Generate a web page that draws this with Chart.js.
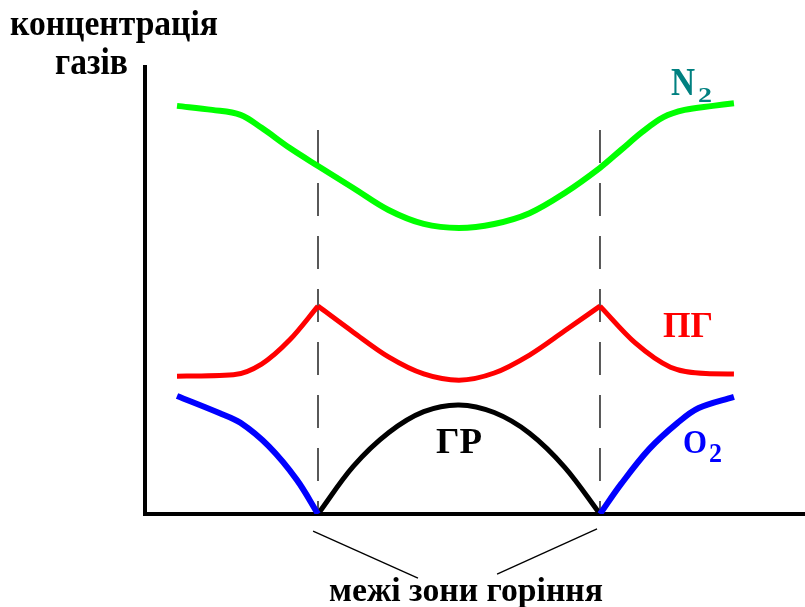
<!DOCTYPE html>
<html lang="uk">
    <head>
        <meta charset="utf-8" />
        <script src="https://cdn.jsdelivr.net/npm/chart.js@4.4.1/dist/chart.umd.min.js"></script>
        <title>концентрація газів</title>
        <style>
            body { margin: 0; background: #fff; }
            canvas { display: block; }
        </style>
    </head>
    <body>
        <canvas id="gazy" width="805" height="607"></canvas>
        <script>
            // межі зони горіння (x = 2 та x = 4), концентрація 0..100
            const mezhi = [2, 4];
            // азот N2
            const xN2 = [1, 1.25, 1.45, 1.6, 1.8, 2, 2.25, 2.5, 2.75, 3, 3.25, 3.5, 3.75, 4, 4.15, 4.3, 4.45, 4.6, 4.8, 4.95];
            const yN2 = [90.9, 90.0, 88.9, 86.0, 81.5, 77.5, 72.6, 67.7, 64.6, 63.7, 64.6, 67.0, 71.5, 77.1, 81.1, 85.1, 88.4, 90.0, 90.9, 91.5];
            // продукти горіння ПГ - три відрізки (гострі піки на межах)
            const xPG1 = [1, 1.4, 1.6, 1.8, 2];
            const yPG1 = [30.7, 31.0, 33.4, 38.8, 46.3];
            const xPG2 = [2, 2.25, 2.5, 2.75, 3, 3.25, 3.5, 3.75, 4];
            const yPG2 = [46.3, 40.5, 35.0, 31.2, 29.8, 31.4, 35.4, 40.8, 46.3];
            const xPG3 = [4, 4.25, 4.5, 4.75, 4.95];
            const yPG3 = [46.3, 38.1, 32.7, 31.3, 31.2];
            // кисень O2
            const xO2a = [1, 1.3, 1.45, 1.65, 1.85, 2];
            const yO2a = [26.3, 22.5, 20.3, 15.1, 7.6, 0];
            const xO2b = [4, 4.15, 4.35, 4.55, 4.7, 4.95];
            const yO2b = [0, 6.7, 14.5, 20.3, 23.6, 26.1];
            // горюча речовина ГР
            const xGR = [2, 2.25, 2.5, 2.75, 3, 3.25, 3.5, 3.75, 4];
            const yGR = [0, 10.6, 18.1, 22.8, 24.3, 22.6, 18.0, 10.4, 0];
            // пунктирні лінії на межах
            const verhPunktyru = 85.5;
            // виноски до підпису "межі зони горіння"
            const vynoska1 = [[1.965, -3.8], [2.709, -14.3]];
            const vynoska2 = [[3.979, -3.3], [3.27, -13.4]];

            const tochky = (xs, ys) => xs.map((x, i) => ({ x: x, y: ys[i] }));

            function kryva(xs, ys, kolir, tovshchyna, monotonna) {
                return {
                    data: tochky(xs, ys),
                    borderColor: kolir,
                    borderWidth: tovshchyna,
                    pointRadius: 0,
                    cubicInterpolationMode: monotonna ? "monotone" : "default",
                    tension: 0.35,
                    borderJoinStyle: "round",
                    fill: false
                };
            }
            function liniya(pary, dash) {
                return {
                    data: pary.map(p => ({ x: p[0], y: p[1] })),
                    borderColor: "#000",
                    borderWidth: 1.3,
                    borderDash: dash,
                    pointRadius: 0,
                    tension: 0,
                    clip: false,
                    fill: false
                };
            }

            const nabory = [
                kryva(xN2, yN2, "#00ff00", 6, false),
                kryva(xPG1, yPG1, "#ff0000", 5, true),
                kryva(xPG2, yPG2, "#ff0000", 5, true),
                kryva(xPG3, yPG3, "#ff0000", 5, true),
                kryva(xO2a, yO2a, "#0000ff", 6, false),
                kryva(xO2b, yO2b, "#0000ff", 6, false),
                kryva(xGR, yGR, "#000000", 5, false)
            ];
            mezhi.forEach(m => nabory.push(liniya([[m, verhPunktyru], [m, 0]], [33, 20])));
            nabory.push(liniya(vynoska1, []));
            nabory.push(liniya(vynoska2, []));

            // підписи: текст, лівий край, базова лінія, ширина, кегль, колір
            const pidpysy = [
                ["концентрація", 10, 35, 208, 36, "#000"],
                ["газів", 55, 74, 73, 37, "#000"],
                ["межі зони горіння", 329, 601, 274, 34, "#000"],
                ["N", 671, 95, 24, 39, "#008080"],
                ["2", 698, 102, 14, 22, "#008080"],
                ["ПГ", 663, 337, 50, 36, "#ff0000"],
                ["O", 683, 453, 24, 34, "#0000ff"],
                ["2", 709, 462, 13, 28, "#0000ff"],
                ["ГР", 436, 453, 46, 35, "#000"]
            ];

            const osi = {
                id: "osi",
                beforeDatasetsDraw(chart) {
                    const ctx = chart.ctx;
                    const sx = chart.scales.x, sy = chart.scales.y;
                    const x0 = sx.getPixelForValue(sx.min);
                    const y0 = sy.getPixelForValue(0);
                    ctx.save();
                    ctx.strokeStyle = "#000";
                    ctx.lineWidth = 4;
                    ctx.beginPath();
                    ctx.moveTo(x0, sy.getPixelForValue(sy.max));
                    ctx.lineTo(x0, y0 + 2);
                    ctx.moveTo(x0 - 2, y0);
                    ctx.lineTo(sx.getPixelForValue(sx.max), y0);
                    ctx.stroke();
                    ctx.restore();
                },
                afterDraw(chart) {
                    const ctx = chart.ctx;
                    pidpysy.forEach(p => {
                        ctx.save();
                        ctx.font = "bold " + p[4] + "px 'Liberation Serif', serif";
                        const w = ctx.measureText(p[0]).width;
                        ctx.translate(p[1], p[2]);
                        ctx.scale(p[3] / w, 1);
                        ctx.fillStyle = p[5];
                        ctx.textBaseline = "alphabetic";
                        ctx.fillText(p[0], 0, 0);
                        ctx.restore();
                    });
                }
            };

            new Chart(document.getElementById("gazy").getContext("2d"), {
                type: "line",
                data: { datasets: nabory },
                options: {
                    responsive: false,
                    animation: false,
                    layout: { padding: { left: 145, top: 65, right: 0, bottom: 93 } },
                    scales: {
                        x: { type: "linear", min: 0.773, max: 5.454, display: false },
                        y: { min: 0, max: 100, display: false }
                    },
                    plugins: {
                        legend: { display: false },
                        tooltip: { enabled: false }
                    }
                },
                plugins: [osi]
            });
        </script>
    </body>
</html>
